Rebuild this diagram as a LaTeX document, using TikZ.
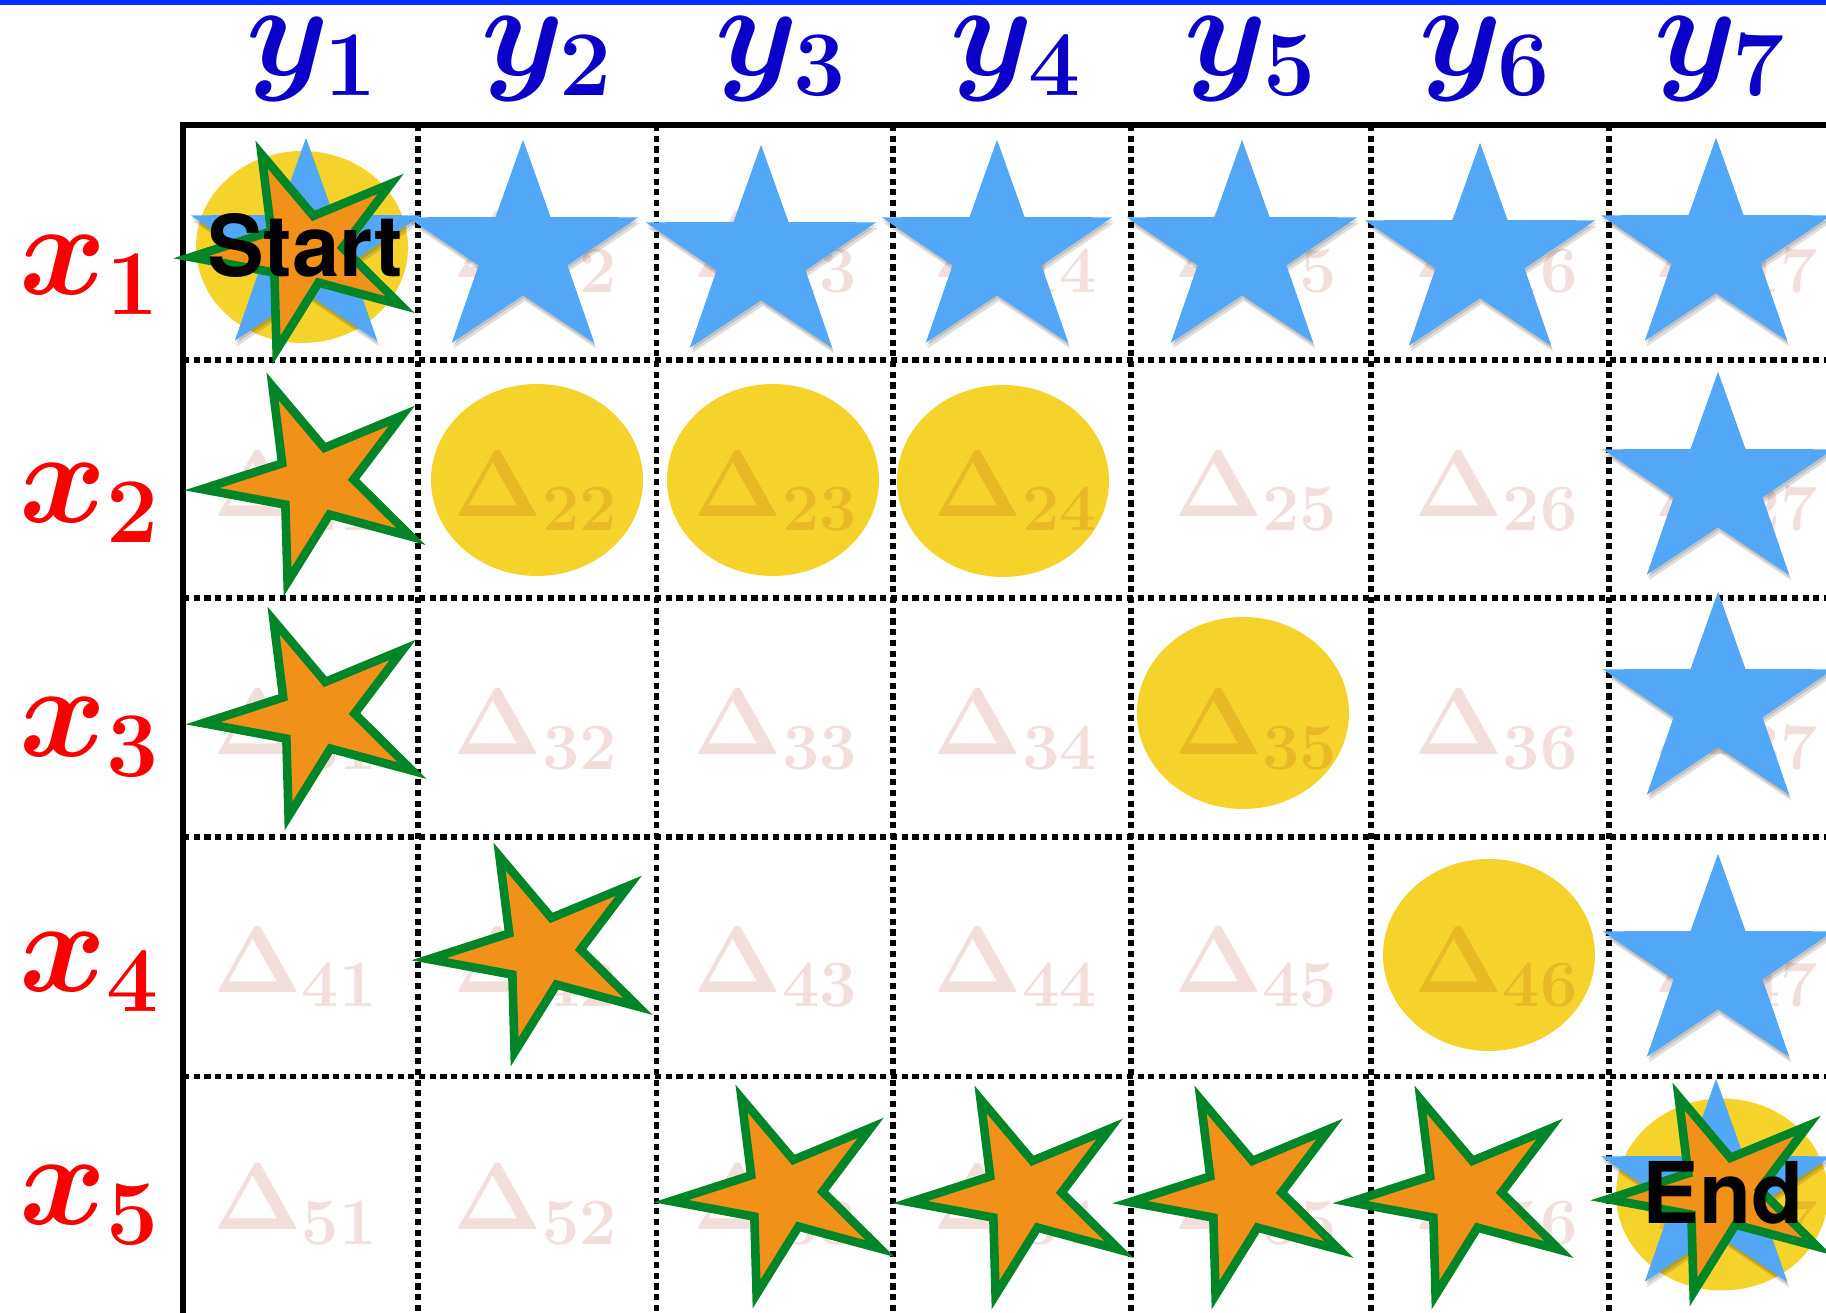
\RequirePackage{fix-cm}
\documentclass[tikz,border=0pt]{standalone}
\usepackage{amsmath}
\usepackage{fontspec}
\newfontfamily\heros{TeX Gyre Heros}
\definecolor{topblue}{RGB}{5,45,255}
\definecolor{labelblue}{RGB}{12,0,200}
\definecolor{labelred}{RGB}{250,0,0}
\definecolor{starblue}{RGB}{82,167,247}
\definecolor{starorange}{RGB}{242,145,26}
\definecolor{stargreen}{RGB}{0,134,40}
\definecolor{ellyellow}{RGB}{245,211,43}
\definecolor{deltac}{RGB}{168,35,8}
\tikzset{
  gridsolid/.style={line width=1.45pt, draw=black},
  griddot/.style={line width=1.55pt, draw=black, dash pattern=on 1.75pt off 1.3pt},
  ylab/.style={text=labelblue, anchor=base, inner sep=0pt, font=\fontsize{37.6}{40}\selectfont},
  xlab/.style={text=labelred, anchor=base west, inner sep=0pt, font=\fontsize{37.6}{40}\selectfont},
  deltalab/.style={text=deltac, text opacity=0.15, anchor=base, inner sep=0pt, font=\fontsize{26.9}{28}\selectfont},
  endlab/.style={text=black, anchor=base, inner sep=0pt, font=\heros\bfseries\fontsize{24.2}{26}\selectfont},
  yellowell/.style={fill=ellyellow},
  bluefill/.style={fill=starblue},
  shadowfill/.style={fill=black, opacity=0.13},
  orangefill/.style={fill=starorange, draw=stargreen, line width=2.45pt, line join=miter},
  pics/bluestar/.style={code={
    \fill[shadowfill, shift={(0.5pt,-1.6pt)}] (90:31.9pt) -- (126:12.3pt) -- (162:31.9pt) -- (198:12.3pt) -- (234:31.9pt) -- (270:12.3pt) -- (306:31.9pt) -- (342:12.3pt) -- (18:31.9pt) -- (54:12.3pt) -- cycle;
    \fill[shadowfill, shift={(0.25pt,-0.8pt)}] (90:31.9pt) -- (126:12.3pt) -- (162:31.9pt) -- (198:12.3pt) -- (234:31.9pt) -- (270:12.3pt) -- (306:31.9pt) -- (342:12.3pt) -- (18:31.9pt) -- (54:12.3pt) -- cycle;
    \fill[bluefill] (90:31.9pt) -- (126:12.3pt) -- (162:31.9pt) -- (198:12.3pt) -- (234:31.9pt) -- (270:12.3pt) -- (306:31.9pt) -- (342:12.3pt) -- (18:31.9pt) -- (54:12.3pt) -- cycle;
  }},
  pics/orangestar/.style={code={
    \filldraw[orangefill] (90:29.3pt) -- (126:10.0pt) -- (162:29.3pt) -- (198:10.0pt) -- (234:29.3pt) -- (270:10.0pt) -- (306:29.3pt) -- (342:10.0pt) -- (18:29.3pt) -- (54:10.0pt) -- cycle;
  }},
}
\begin{document}
\begin{tikzpicture}[x=0.01cm, y=-0.01cm]
\useasboundingbox (0,0) rectangle (1826,1313);
\clip (0,0) rectangle (1826,1313);
% top blue bar
\fill[topblue] (0,0) rectangle (1826,5);
% grid
\foreach \gx in {418,656.5,893,1131,1371,1609} {
  \draw[griddot] (\gx,125) -- (\gx,1313);
}
\foreach \gy in {360,598,837,1076.5} {
  \draw[griddot] (183,\gy) -- (1826,\gy);
}
\draw[gridsolid] (183,1313) -- (183,125) -- (1826,125);
% yellow ellipses
\foreach \ex/\ey in {302/247, 537/480, 773/480, 1003/481, 1243/713, 1489/955, 1722/1194.5} {
  \fill[yellowell] (\ex,\ey) ellipse [x radius=106, y radius=96];
}
% Delta labels
\foreach \r/\yb in {1/278,2/516.7,3/755,4/992.7,5/1230} {
  \foreach \c in {1,...,7} {
    \pgfmathsetmacro\xc{295.7+240.2*(\c-1)}
    \ifnum\r\c=11\relax\else
      \node[deltalab] (d\r\c) at (\xc,\yb) {$\boldsymbol{\Delta_{\r\c}}$};
    \fi
  }
}
% blue stars
\foreach \bx/\by in {306/250, 523/252, 761/257, 997/252, 1242/252, 1480/255, 1716/250, 1718/484, 1718/704, 1718/966, 1716/1191} {
  \pic[xscale=1.08] at (\bx,\by) {bluestar};
}
% orange stars
\foreach \ox/\oy in {304/250, 315/482, 316/716, 542/952, 784/1194, 1023/1195, 1243/1195, 1463/1195, 1721/1192} {
  \pic[xscale=1.1, rotate=22] at (\ox,\oy) {orangestar};
}
% Start / End
\node[endlab] (start) at (305,277) {Start};
\node[endlab] (end) at (1723,1224) {End};
% column labels
\foreach \c in {1,...,7} {
  \pgfmathsetmacro\lx{312.5+234.6*(\c-1)}
  \node[ylab] (y\c) at (\lx,76) {$\boldsymbol{y_{\c}}$};
}
% row labels
\foreach \r/\ly in {1/294.6, 2/523, 3/757, 4/992, 5/1225} {
  \node[xlab] (x\r) at (19,\ly) {$\boldsymbol{x_{\r}}$};
}
\end{tikzpicture}
\end{document}
